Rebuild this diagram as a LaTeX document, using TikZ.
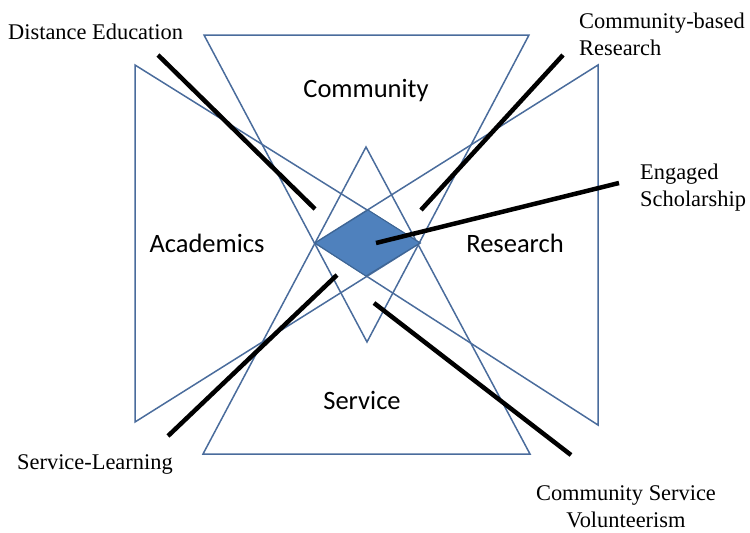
\documentclass[tikz,border=0pt]{standalone}
\usepackage{fontspec}
\setmainfont{Liberation Serif}
\setsansfont{Carlito}
\definecolor{triblue}{HTML}{4A6C9C}
\definecolor{hubblue}{HTML}{4F81BD}
\definecolor{hubedge}{HTML}{3D6594}
\begin{document}
\begin{tikzpicture}[x=1pt, y=-1pt]
      \tikzstyle{tri}=[draw=triblue, line width=1.5pt, line join=miter]
      \tikzstyle{hub}=[draw=hubedge, fill=hubblue, line width=1pt]
      \tikzstyle{pointer}=[line width=4.5pt, black]
      \tikzstyle{area}=[font=\fontsize{26.5}{30}\selectfont\sffamily, inner sep=0, anchor=base]
      \tikzstyle{note}=[font=\fontsize{22.4}{27}\selectfont, inner sep=0]
      \useasboundingbox (0,0) rectangle (750,533);

      % the four triangles
      \coordinate (c1) at (204,35);
      \coordinate (c2) at (529,35);
      \coordinate (c3) at (367,342);
      \coordinate (s1) at (203,454);
      \coordinate (s2) at (530,454);
      \coordinate (s3) at (366,147);
      \coordinate (a1) at (135,65);
      \coordinate (a2) at (135,422);
      \coordinate (a3) at (420,243);
      \coordinate (r1) at (598,65);
      \coordinate (r2) at (598,425);
      \coordinate (r3) at (315,243);
      \foreach \p/\q/\r in {c1/c2/c3, s1/s2/s3, a1/a2/a3, r1/r2/r3} {%
        \draw[tri] (\p) -- (\q) -- (\r) -- cycle;
      }

      % overlap in the middle
      \coordinate (h1) at (368,210);
      \coordinate (h2) at (366,276);
      \draw[hub] (r3) -- (h1) -- (a3) -- (h2) -- cycle;

      % area names
      \node[area] (com) at (366,97) {Community};
      \node[area] (aca) at (207,252) {Academics};
      \node[area] (res) at (515,252) {Research};
      \node[area] (ser) at (362,409) {Service};

      % labels (base = last line)
      \node[note, anchor=base west] (de) at (8,39) {Distance Education};
      \node[note, anchor=base west, align=left] (cbr) at (579,55) {Community-based\\Research};
      \node[note, anchor=base west, align=left] (es) at (640,206) {Engaged\\Scholarship};
      \node[note, anchor=base west] (sl) at (17,469) {Service-Learning};
      \node[note, anchor=base, align=center] (csv) at (626,527) {Community Service\\Volunteerism};

      % pointer ends
      \coordinate (de1) at (158,55);
      \coordinate (de2) at (315,209);
      \coordinate (cbr1) at (563,55);
      \coordinate (cbr2) at (421,210);
      \coordinate (es1) at (619,183);
      \coordinate (es2) at (376,243);
      \coordinate (sl1) at (168,436);
      \coordinate (sl2) at (337,275);
      \coordinate (csv1) at (571,455);
      \coordinate (csv2) at (374,303);

      \foreach \src/\dst in {de1/de2, cbr1/cbr2, es1/es2, sl1/sl2, csv1/csv2} {%
        \draw[pointer] (\src) to (\dst);
      }
    \end{tikzpicture}
\end{document}
